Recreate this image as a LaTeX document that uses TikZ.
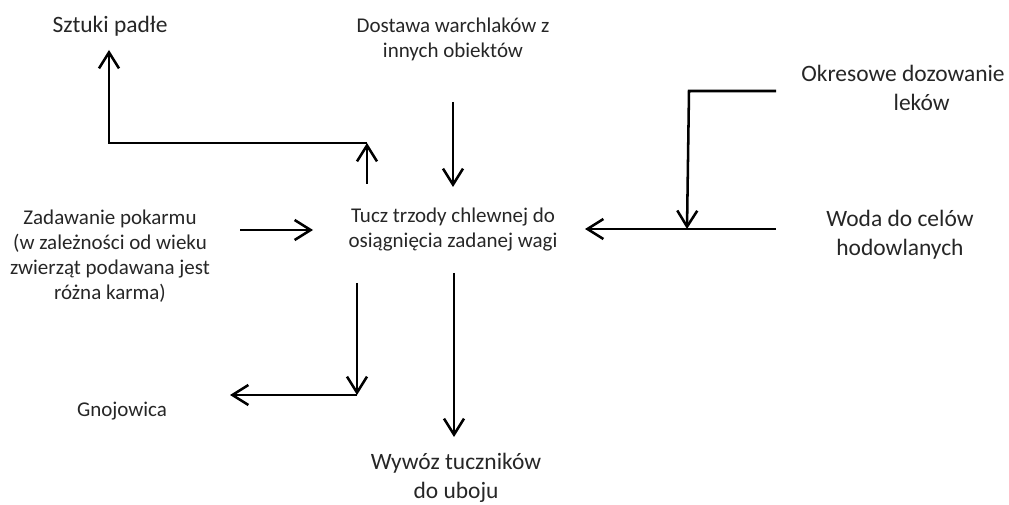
\documentclass[tikz,border=0pt]{standalone}
\usepackage{fontspec}
\setmainfont{Carlito}
\usetikzlibrary{arrows.meta}
\tikzset{
  flow/.style={line width=1.9pt, -{Straight Barb[length=12pt,width=15pt,line width=1.9pt]}},
  small/.style={align=center, text=black!85, font=\fontsize{15.75}{18.75}\selectfont},
  big/.style={align=center, text=black!85, font=\fontsize{17.6}{21.75}\selectfont}
}
\begin{document}
\begin{tikzpicture}[x=0.75pt,y=-0.75pt]
\useasboundingbox (0,0) rectangle (1009,505);
\node[big] (padle) at (110,26) {Sztuki padłe};
\node[small] (dostawa) at (453,39) {Dostawa warchlaków z\\innych obiektów};
\node[big] (leki) at (903,88) {Okresowe dozowanie\\\hspace*{28pt}leków};
\node[big] (woda) at (900,235) {Woda do celów\\hodowlanych};
\node[small] (pokarm) at (110,256) {Zadawanie pokarmu\\(w zależności od wieku\\zwierząt podawana jest\\różna karma)};
\node[small] (tucz) at (453,230) {Tucz trzody chlewnej do\\osiągnięcia zadanej wagi};
\node[small] (gnoj) at (122,411) {Gnojowica};
\node[big] (wywoz) at (456,478) {Wywóz tuczników\\do uboju};
\coordinate (mortA) at (367,184);
\coordinate (mortB) at (367,143);
\coordinate (mortC) at (109,143);
\coordinate (mortD) at (109,50);
\coordinate (dostA) at (453,102);
\coordinate (dostB) at (453,187);
\coordinate (lekA) at (776,91);
\coordinate (lekB) at (689,91);
\coordinate (lekC) at (687,229);
\coordinate (wodaA) at (776,229);
\coordinate (wodaB) at (585,229);
\coordinate (pokA) at (240,230);
\coordinate (pokB) at (313,230);
\coordinate (gnA) at (357,283);
\coordinate (gnB) at (357,395);
\coordinate (gnC) at (230,395);
\coordinate (wyA) at (454,273);
\coordinate (wyB) at (454,437);
\draw[flow] (mortA) -- (mortB);
\draw[flow] (mortB) -- (mortC) -- (mortD);
\draw[flow] (dostA) -- (dostB);
\draw[flow] (lekA) -- (lekB) -- (lekC);
\draw[flow] (wodaA) -- (wodaB);
\draw[flow] (pokA) -- (pokB);
\draw[flow] (gnA) -- (gnB);
\draw[flow] (gnB) -- (gnC);
\draw[flow] (wyA) -- (wyB);
\end{tikzpicture}
\end{document}
